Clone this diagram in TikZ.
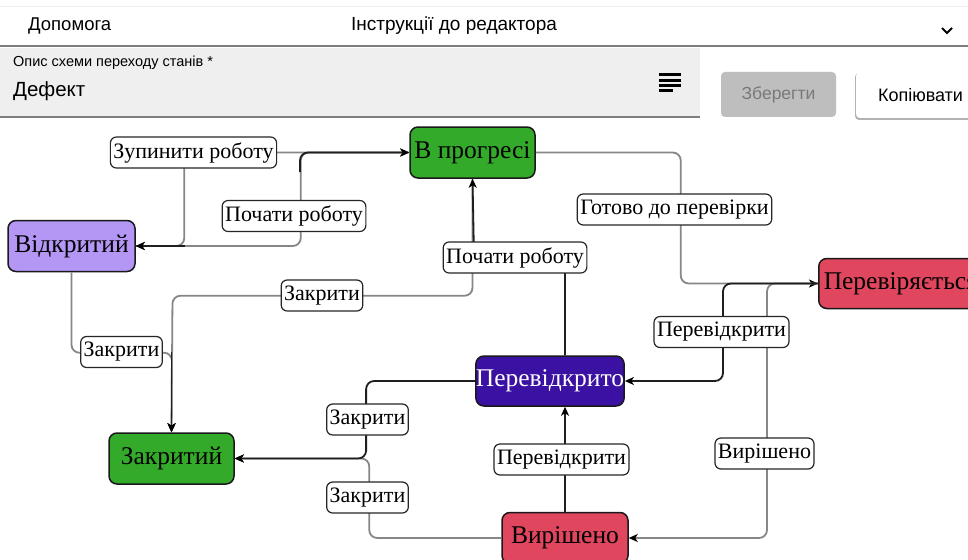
\documentclass[tikz,border=0pt]{standalone}
\usepackage{fontspec}
\setmainfont{Liberation Serif}
\newfontfamily\uisans{Liberation Sans}
\usetikzlibrary{arrows.meta,calc}
\definecolor{lav}{RGB}{180,150,245}
\definecolor{grn}{RGB}{52,170,42}
\definecolor{rd}{RGB}{224,70,94}
\definecolor{ind}{RGB}{58,17,163}
\definecolor{edgegray}{RGB}{135,135,135}
\definecolor{fieldgray}{RGB}{239,239,239}
\definecolor{btngray}{RGB}{190,190,190}
\definecolor{rulegray}{RGB}{125,125,125}
\begin{document}
\begin{tikzpicture}[x=1pt,y=-1pt,
 state/.style={draw=black!90, line width=1.5pt, rounded corners=8pt, minimum width=125pt, minimum height=51pt, font=\fontsize{25.5}{27}\selectfont, inner sep=0pt},
 lbl/.style={draw=black!85, fill=white, line width=1.2pt, rounded corners=6pt, inner xsep=3pt, inner ysep=0pt, minimum height=31pt, font=\fontsize{22}{24}\selectfont},
 gline/.style={draw=edgegray, line width=1.8pt, rounded corners=8pt},
 bline/.style={draw=black!88, line width=1.8pt, rounded corners=8pt},
 tip/.style={-{Stealth[length=9pt,width=8pt,inset=2.5pt,color=black]}},
 ui/.style={inner sep=0pt, font=\uisans\fontsize{#1}{#1}\selectfont},
]
\useasboundingbox (0,0) rectangle (968,559);
\fill[white] (0,0) rectangle (968,559);
% ---------- header ----------
\draw[gray!12, line width=1pt] (0,7) -- (968,7);
\node[ui=18.5, anchor=west] (help) at (28,26) {Допомога};
\node[ui=19] (instr) at (454,26) {Інструкції до редактора};
\draw[line width=1.8pt] (942,28) -- (947,33) -- (952,28);
\draw[rulegray, line width=2.6pt] (0,46) -- (968,46);
\fill[fieldgray] (0,48) rectangle (700,117);
\draw[rulegray, line width=1.5pt] (0,117) -- (700,117);
\node[ui=14.5, anchor=west] (desc) at (13,63) {Опис схеми переходу станів *};
\node[ui=20.5, anchor=west] (name) at (13,91) {Дефект};
\foreach \yy in {75,80.5,86} \draw[line width=3pt] (659,\yy) -- (681,\yy);
\draw[line width=3pt] (659,91) -- (673,91);
\fill[btngray, rounded corners=4pt] (721,72) rectangle (836,117);
\node[ui=17.5, text=gray!95!black] (save) at (778.5,95) {Зберегти};
\fill[black!30, rounded corners=4pt] (855,73) rectangle (980,120);
\fill[white, rounded corners=4pt] (856,72) rectangle (980,118);
\node[ui=18] (copy) at (920.5,95) {Копіювати};
% ---------- states ----------
\node[state, fill=lav, minimum width=127pt] (open) at (71.5,246) {Відкритий};
\node[state, fill=grn] (prog) at (472.5,152.5) {В прогресі};
\node[state, fill=rd, anchor=west, inner xsep=5pt, minimum height=50pt] (check) at (818,283.5) {Перевіряється};
\node[state, fill=ind, text=white, minimum width=146pt, minimum height=50pt] (reop) at (550,381) {Перевідкрито};
\node[state, fill=grn] (closed) at (171.5,458.5) {Закритий};
\node[state, fill=rd, minimum width=126pt] (res) at (565,538) {Вирішено};
% ---------- gray edges ----------
\draw[gline, tip] (open.east) -- ++(165,0) |- (prog.west);
\draw[gline, tip] (prog.west) -- ++(-225,0) |- (open.east);
\draw[gline, tip] (prog.east) -- ++(145,0) |- (check.west);
\draw[gline, tip] (prog.south) |- ++(-300,117) -- (closed.north);
\draw[gline, tip] (open.south) |- ++(100.5,80.5) -- (closed.north);
\draw[gline, tip] (check.west) -- ++(-51,0) |- (res.east);
\draw[gline, tip] (res.west) -- ++(-132,0) |- (closed.east);
% ---------- black edges ----------
\coordinate (b1) at (300,172);
\draw[bline, tip] (b1) |- (prog.west);
\coordinate (b2) at (185,246);
\draw[bline, tip] (b2) -- (open.east);
\coordinate (b3) at (171.5,352);
\draw[bline, tip] (b3) -- (closed.north);
\draw[bline, tip] (check.west) -- ++(-95,0) |- (reop.east);
\draw[bline, tip] (res.north |- reop.north) |- ++(-91,-99) -- (prog.south);
\draw[bline, tip] (reop.west) -- ++(-109,0) |- (closed.east);
\draw[bline, tip] (res.north) -- (res.north |- reop.south);
% ---------- labels ----------
\node[lbl] (l1) at (294,216) {Почати роботу};
\node[lbl] (l2) at (193.5,152.5) {Зупинити роботу};
\node[lbl] (l3) at (674.5,209.5) {Готово до перевірки};
\node[lbl] (l4) at (515,257.5) {Почати роботу};
\node[lbl] (l5) at (322,295.5) {Закрити};
\node[lbl] (l6) at (121.5,352) {Закрити};
\node[lbl] (l7) at (721.5,332) {Перевідкрити};
\node[lbl] (l8) at (764.5,453.5) {Вирішено};
\node[lbl] (l9) at (367.5,419.5) {Закрити};
\node[lbl] (l10) at (367.5,497.5) {Закрити};
\node[lbl] (l11) at (561.5,459.5) {Перевідкрити};
\end{tikzpicture}
\end{document}
